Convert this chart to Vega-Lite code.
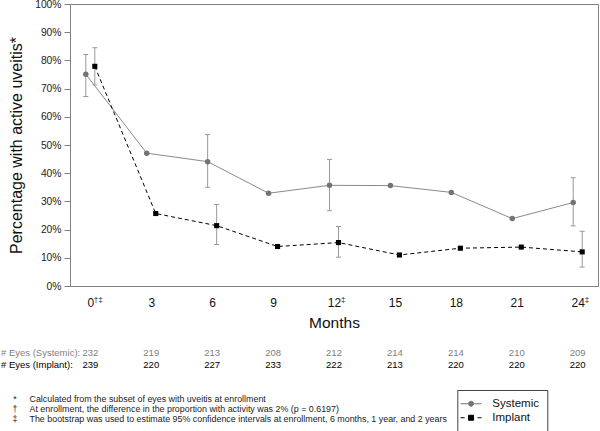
{
  "$schema": "https://vega.github.io/schema/vega-lite/v6.json",
  "width": 528,
  "height": 282,
  "autosize": "none",
  "padding": {"left": 70, "top": 4, "right": 2, "bottom": 145},
  "background": "white",
  "config": {
    "view": {"stroke": "#808080", "strokeWidth": 1},
    "font": "Liberation Sans",
    "text": {"font": "Liberation Sans"}
  },
  "datasets": {
    "points": [
      {"series": "Systemic", "month": 0, "pct": 75.1, "lo": 67.2, "hi": 82.1},
      {"series": "Systemic", "month": 3, "pct": 47.1},
      {"series": "Systemic", "month": 6, "pct": 44.1, "lo": 35.0, "hi": 53.7},
      {"series": "Systemic", "month": 9, "pct": 32.9},
      {"series": "Systemic", "month": 12, "pct": 35.7, "lo": 26.7, "hi": 44.9},
      {"series": "Systemic", "month": 15, "pct": 35.6},
      {"series": "Systemic", "month": 18, "pct": 33.2},
      {"series": "Systemic", "month": 21, "pct": 23.9},
      {"series": "Systemic", "month": 24, "pct": 29.6, "lo": 21.3, "hi": 38.4},
      {"series": "Implant", "month": 0, "pct": 77.9, "lo": 71.3, "hi": 84.5},
      {"series": "Implant", "month": 3, "pct": 25.7},
      {"series": "Implant", "month": 6, "pct": 21.4, "lo": 14.7, "hi": 28.9},
      {"series": "Implant", "month": 9, "pct": 14.0},
      {"series": "Implant", "month": 12, "pct": 15.4, "lo": 10.2, "hi": 21.1},
      {"series": "Implant", "month": 15, "pct": 11.0},
      {"series": "Implant", "month": 18, "pct": 13.4},
      {"series": "Implant", "month": 21, "pct": 13.8},
      {"series": "Implant", "month": 24, "pct": 12.1, "lo": 6.7, "hi": 19.4}
    ],
    "counts": [
      {"month": 0, "systemic": 232, "implant": 239},
      {"month": 3, "systemic": 219, "implant": 220},
      {"month": 6, "systemic": 213, "implant": 227},
      {"month": 9, "systemic": 208, "implant": 233},
      {"month": 12, "systemic": 212, "implant": 222},
      {"month": 15, "systemic": 214, "implant": 213},
      {"month": 18, "systemic": 214, "implant": 220},
      {"month": 21, "systemic": 210, "implant": 220},
      {"month": 24, "systemic": 209, "implant": 220}
    ],
    "sups": [
      {"month": 0, "sup": "†‡"},
      {"month": 12, "sup": "‡"},
      {"month": 24, "sup": "‡"}
    ],
    "legend": [
      {"series": "Systemic"},
      {"series": "Implant"}
    ],
    "one": [{"id": 1}]
  },
  "layer": [
    {
      "data": {"name": "points"},
      "transform": [{"filter": "datum.series === 'Systemic'"}],
      "mark": {"type": "line", "color": "#8a8a8a", "strokeWidth": 1, "xOffset": -4.5},
      "encoding": {
        "x": {
          "field": "month", "type": "quantitative",
          "scale": {"domain": [-1, 25], "nice": false, "zero": false},
          "axis": {
            "title": "Months", "values": [0, 3, 6, 9, 12, 15, 18, 21, 24],
            "ticks": false, "tickSize": 0, "domain": false, "grid": false,
            "labelFontSize": 12, "labelColor": "#111", "labelPadding": 11,
            "titleFontSize": 15.5, "titleFontWeight": "normal", "titleColor": "#111",
            "titlePadding": 7, "labelFlush": false, "labelOverlap": false
          }
        },
        "y": {
          "field": "pct", "type": "quantitative",
          "scale": {"domain": [0, 100], "nice": false},
          "axis": {
            "title": "Percentage with active uveitis*",
            "values": [0, 10, 20, 30, 40, 50, 60, 70, 80, 90, 100],
            "labelExpr": "datum.value + '%'",
            "tickSize": 6, "tickColor": "#808080", "domainColor": "#808080",
            "labelFontSize": 10.3, "labelColor": "#222", "labelPadding": 3,
            "grid": false, "labelFlush": false, "labelOverlap": false, "labelBound": false,
            "titleFontSize": 16, "titleFontWeight": "normal", "titleColor": "#111",
            "titlePadding": 10
          }
        }
      }
    },
    {
      "data": {"name": "points"},
      "transform": [{"filter": "datum.series === 'Implant'"}],
      "mark": {"type": "line", "color": "#000000", "strokeWidth": 1, "strokeDash": [4, 3], "xOffset": 4.5},
      "encoding": {
        "x": {"field": "month", "type": "quantitative"},
        "y": {"field": "pct", "type": "quantitative", "axis": {"values": [0, 10, 20, 30, 40, 50, 60, 70, 80, 90, 100], "labelOverlap": false}}
      }
    },
    {
      "data": {"name": "points"},
      "transform": [{"filter": "datum.series === 'Systemic' && isValid(datum.lo)"}],
      "mark": {"type": "rule", "color": "#999999", "strokeWidth": 1, "xOffset": -4.5},
      "encoding": {
        "x": {"field": "month", "type": "quantitative"},
        "y": {"field": "lo", "type": "quantitative", "axis": {"values": [0, 10, 20, 30, 40, 50, 60, 70, 80, 90, 100], "labelOverlap": false}},
        "y2": {"field": "hi"}
      }
    },
    {
      "data": {"name": "points"},
      "transform": [
        {"filter": "datum.series === 'Systemic' && isValid(datum.lo)"},
        {"fold": ["lo", "hi"], "as": ["bound", "val"]}
      ],
      "mark": {"type": "tick", "orient": "horizontal", "size": 5, "thickness": 1, "color": "#999999", "xOffset": -4.5, "opacity": 1},
      "encoding": {
        "x": {"field": "month", "type": "quantitative"},
        "y": {"field": "val", "type": "quantitative", "axis": {"values": [0, 10, 20, 30, 40, 50, 60, 70, 80, 90, 100], "labelOverlap": false}}
      }
    },
    {
      "data": {"name": "points"},
      "transform": [{"filter": "datum.series === 'Implant' && isValid(datum.lo)"}],
      "mark": {"type": "rule", "color": "#999999", "strokeWidth": 1, "xOffset": 4.5},
      "encoding": {
        "x": {"field": "month", "type": "quantitative"},
        "y": {"field": "lo", "type": "quantitative", "axis": {"values": [0, 10, 20, 30, 40, 50, 60, 70, 80, 90, 100], "labelOverlap": false}},
        "y2": {"field": "hi"}
      }
    },
    {
      "data": {"name": "points"},
      "transform": [
        {"filter": "datum.series === 'Implant' && isValid(datum.lo)"},
        {"fold": ["lo", "hi"], "as": ["bound", "val"]}
      ],
      "mark": {"type": "tick", "orient": "horizontal", "size": 5, "thickness": 1, "color": "#999999", "xOffset": 4.5, "opacity": 1},
      "encoding": {
        "x": {"field": "month", "type": "quantitative"},
        "y": {"field": "val", "type": "quantitative", "axis": {"values": [0, 10, 20, 30, 40, 50, 60, 70, 80, 90, 100], "labelOverlap": false}}
      }
    },
    {
      "data": {"name": "points"},
      "transform": [{"filter": "datum.series === 'Systemic'"}],
      "mark": {"type": "point", "shape": "circle", "filled": true, "size": 30, "color": "#737373", "opacity": 1, "xOffset": -4.5},
      "encoding": {
        "x": {"field": "month", "type": "quantitative"},
        "y": {"field": "pct", "type": "quantitative", "axis": {"values": [0, 10, 20, 30, 40, 50, 60, 70, 80, 90, 100], "labelOverlap": false}}
      }
    },
    {
      "data": {"name": "points"},
      "transform": [{"filter": "datum.series === 'Implant'"}],
      "mark": {"type": "point", "shape": "square", "filled": true, "size": 26, "color": "#000000", "opacity": 1, "xOffset": 4.5},
      "encoding": {
        "x": {"field": "month", "type": "quantitative"},
        "y": {"field": "pct", "type": "quantitative", "axis": {"values": [0, 10, 20, 30, 40, 50, 60, 70, 80, 90, 100], "labelOverlap": false}}
      }
    },
    {
      "data": {"name": "sups"},
      "transform": [{"filter": "datum.month === 0"}],
      "mark": {"type": "text", "align": "left", "baseline": "alphabetic", "fontSize": 8, "dx": 3.5, "dy": 16, "color": "#111"},
      "encoding": {
        "x": {"field": "month", "type": "quantitative"},
        "y": {"datum": 0, "type": "quantitative", "axis": {"values": [0, 10, 20, 30, 40, 50, 60, 70, 80, 90, 100], "labelOverlap": false}},
        "text": {"field": "sup", "type": "nominal"}
      }
    },
    {
      "data": {"name": "sups"},
      "transform": [{"filter": "datum.month > 0"}],
      "mark": {"type": "text", "align": "left", "baseline": "alphabetic", "fontSize": 8, "dx": 7, "dy": 16, "color": "#111"},
      "encoding": {
        "x": {"field": "month", "type": "quantitative"},
        "y": {"datum": 0, "type": "quantitative", "axis": {"values": [0, 10, 20, 30, 40, 50, 60, 70, 80, 90, 100], "labelOverlap": false}},
        "text": {"field": "sup", "type": "nominal"}
      }
    },
    {
      "data": {"name": "counts"},
      "mark": {"type": "text", "align": "center", "baseline": "middle", "fontSize": 9.5, "dy": 67, "color": "#808080"},
      "encoding": {
        "x": {"field": "month", "type": "quantitative"},
        "y": {"datum": 0, "type": "quantitative", "axis": {"values": [0, 10, 20, 30, 40, 50, 60, 70, 80, 90, 100], "labelOverlap": false}},
        "text": {"field": "systemic", "type": "nominal"}
      }
    },
    {
      "data": {"name": "counts"},
      "mark": {"type": "text", "align": "center", "baseline": "middle", "fontSize": 9.5, "dy": 79.3, "color": "#000000"},
      "encoding": {
        "x": {"field": "month", "type": "quantitative"},
        "y": {"datum": 0, "type": "quantitative", "axis": {"values": [0, 10, 20, 30, 40, 50, 60, 70, 80, 90, 100], "labelOverlap": false}},
        "text": {"field": "implant", "type": "nominal"}
      }
    },
    {
      "data": {"name": "one"},
      "mark": {"type": "text", "align": "left", "baseline": "middle", "fontSize": 9.5, "dx": -69, "dy": 67, "color": "#808080", "text": "# Eyes (Systemic):"},
      "encoding": {
        "x": {"datum": -1, "type": "quantitative"},
        "y": {"datum": 0, "type": "quantitative", "axis": {"values": [0, 10, 20, 30, 40, 50, 60, 70, 80, 90, 100], "labelOverlap": false}}
      }
    },
    {
      "data": {"name": "one"},
      "mark": {"type": "text", "align": "left", "baseline": "middle", "fontSize": 9.5, "dx": -69, "dy": 79.3, "color": "#000000", "text": "# Eyes (Implant):"},
      "encoding": {
        "x": {"datum": -1, "type": "quantitative"},
        "y": {"datum": 0, "type": "quantitative", "axis": {"values": [0, 10, 20, 30, 40, 50, 60, 70, 80, 90, 100], "labelOverlap": false}}
      }
    },
    {
      "data": {"name": "one"},
      "mark": {"type": "text", "align": "center", "baseline": "alphabetic", "fontSize": 8.9, "lineHeight": 10.2, "dx": -55, "dy": 115.8, "color": "#222",
        "text": ["*", "†", "‡"]},
      "encoding": {
        "x": {"datum": -1, "type": "quantitative"},
        "y": {"datum": 0, "type": "quantitative", "axis": {"values": [0, 10, 20, 30, 40, 50, 60, 70, 80, 90, 100], "labelOverlap": false}}
      }
    },
    {
      "data": {"name": "one"},
      "mark": {"type": "text", "align": "left", "baseline": "alphabetic", "fontSize": 8.9, "lineHeight": 10.2, "dx": -40.5, "dy": 115.8, "color": "#222",
        "text": [
          "Calculated from the subset of eyes with uveitis at enrollment",
          "At enrollment, the difference in the proportion with activity was 2% (p = 0.6197)",
          "The bootstrap was used to estimate 95% confidence intervals at enrollment, 6 months, 1 year, and 2 years"
        ]},
      "encoding": {
        "x": {"datum": -1, "type": "quantitative"},
        "y": {"datum": 0, "type": "quantitative", "axis": {"values": [0, 10, 20, 30, 40, 50, 60, 70, 80, 90, 100], "labelOverlap": false}}
      }
    },
    {
      "data": {"name": "legend"},
      "mark": {"type": "point", "filled": true, "opacity": 0},
      "encoding": {
        "color": {
          "field": "series", "type": "nominal",
          "scale": {"domain": ["Systemic", "Implant"], "range": ["#737373", "#000000"]},
          "legend": {
            "title": null, "orient": "none", "legendX": 387.3, "legendY": 386,
            "strokeColor": "#444", "padding": 8, "symbolSize": 100,
            "labelFontSize": 11.5, "labelColor": "#111", "labelOffset": 15.5,
            "rowPadding": 1, "symbolStrokeWidth": 1, "symbolOpacity": 1,
            "encode": {
              "symbols": {
                "update": {
                  "fill": {"scale": "color", "field": "value"},
                  "stroke": {"scale": "color", "field": "value"},
                  "opacity": {"value": 1},
                  "strokeWidth": {"value": 1}
                }
              }
            }
          }
        },
        "shape": {
          "field": "series", "type": "nominal",
          "scale": {
            "domain": ["Systemic", "Implant"],
            "range": [
              "M-2.1,0H-0.5M0.5,0H2.1M-0.5,0A0.5,0.5,0,1,0,0.5,0A0.5,0.5,0,1,0,-0.5,0Z",
              "M-2.1,0H-1.3M1.3,0H2.1M-0.5,-0.5H0.5V0.5H-0.5Z"
            ]
          }
        }
      }
    }
  ]
}
